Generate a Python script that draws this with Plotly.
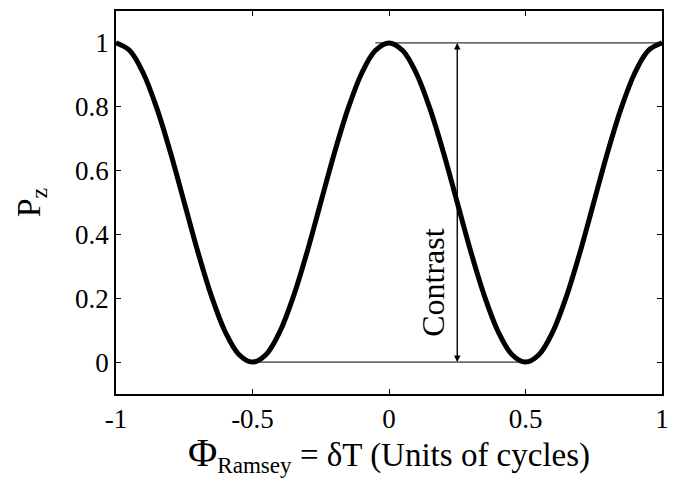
import plotly.graph_objects as go

# Ramsey fringe: population P_z versus Ramsey phase (cycles)
phase = [-1.00, -0.95, -0.90, -0.85, -0.80, -0.75, -0.70, -0.65, -0.60, -0.55,
         -0.50, -0.45, -0.40, -0.35, -0.30, -0.25, -0.20, -0.15, -0.10, -0.05,
         0.00, 0.05, 0.10, 0.15, 0.20, 0.25, 0.30, 0.35, 0.40, 0.45,
         0.50, 0.55, 0.60, 0.65, 0.70, 0.75, 0.80, 0.85, 0.90, 0.95, 1.00]
pz = [1.000, 0.976, 0.905, 0.794, 0.655, 0.500, 0.345, 0.206, 0.095, 0.024,
      0.000, 0.024, 0.095, 0.206, 0.345, 0.500, 0.655, 0.794, 0.905, 0.976,
      1.000, 0.976, 0.905, 0.794, 0.655, 0.500, 0.345, 0.206, 0.095, 0.024,
      0.000, 0.024, 0.095, 0.206, 0.345, 0.500, 0.655, 0.794, 0.905, 0.976, 1.000]

x_ticks = [-1, -0.5, 0, 0.5, 1]
x_tick_text = ["-1", "-0.5", "0", "0.5", "1"]
y_ticks = [0, 0.2, 0.4, 0.6, 0.8, 1]
y_tick_text = ["0", "0.2", "0.4", "0.6", "0.8", "1"]

# contrast marker: guide lines at max / min and a double arrow between them
p_max, p_min = 1.0, 0.0
max_line_x = [-0.05, 1.0]
min_line_x = [-0.51, 0.5]
arrow_x = 0.25

serif = "Liberation Serif, Times New Roman, serif"

fig = go.Figure()

fig.add_trace(go.Scatter(x=max_line_x, y=[p_max, p_max], mode="lines",
                         line=dict(color="black", width=1), hoverinfo="skip"))
fig.add_trace(go.Scatter(x=min_line_x, y=[p_min, p_min], mode="lines",
                         line=dict(color="black", width=1), hoverinfo="skip"))
fig.add_trace(go.Scatter(x=phase, y=pz, mode="lines",
                         line=dict(color="black", width=5, shape="spline"),
                         hoverinfo="skip"))

# double-headed arrow
fig.add_annotation(x=arrow_x, y=p_max, ax=arrow_x, ay=p_min, xref="x", yref="y",
                   axref="x", ayref="y", showarrow=True, arrowhead=2,
                   arrowsize=1.3, arrowwidth=1, arrowcolor="black", text="")
fig.add_annotation(x=arrow_x, y=p_min, ax=arrow_x, ay=p_max, xref="x", yref="y",
                   axref="x", ayref="y", showarrow=True, arrowhead=2,
                   arrowsize=1.3, arrowwidth=1, arrowcolor="black", text="")
fig.add_annotation(x=0.163, y=0.25, xref="x", yref="y", text="Contrast",
                   textangle=-90, showarrow=False,
                   font=dict(family=serif, size=32, color="black"))

# axis titles
fig.add_annotation(x=0.50, y=-0.088, xref="paper", yref="paper",
                   text="<span style='font-size:40px'>Φ</span><sub>Ramsey</sub> = δT (Units of cycles)",
                   showarrow=False, xanchor="center", yanchor="top",
                   font=dict(family=serif, size=33, color="black"))
fig.add_annotation(x=-0.156, y=0.5, xref="paper", yref="paper",
                   text="P<sub>z</sub>", textangle=-90, showarrow=False,
                   xanchor="center", yanchor="middle",
                   font=dict(family=serif, size=34, color="black"))

axis_common = dict(showgrid=False, zeroline=False, showline=True,
                   linecolor="black", linewidth=1.5, mirror="ticks",
                   ticks="inside", ticklen=5, tickwidth=1, tickcolor="black",
                   ticklabeloverflow="allow",
                   tickfont=dict(family=serif, size=27, color="black"))

fig.update_xaxes(range=[-1, 1], tickvals=x_ticks, ticktext=x_tick_text, **axis_common)
fig.update_yaxes(range=[-0.1, 1.1], tickvals=y_ticks, ticktext=y_tick_text, **axis_common)

fig.update_layout(width=673, height=483, showlegend=False,
                  plot_bgcolor="white", paper_bgcolor="white",
                  margin=dict(l=116, r=4, t=11, b=89))

fig.write_html("out.html")
